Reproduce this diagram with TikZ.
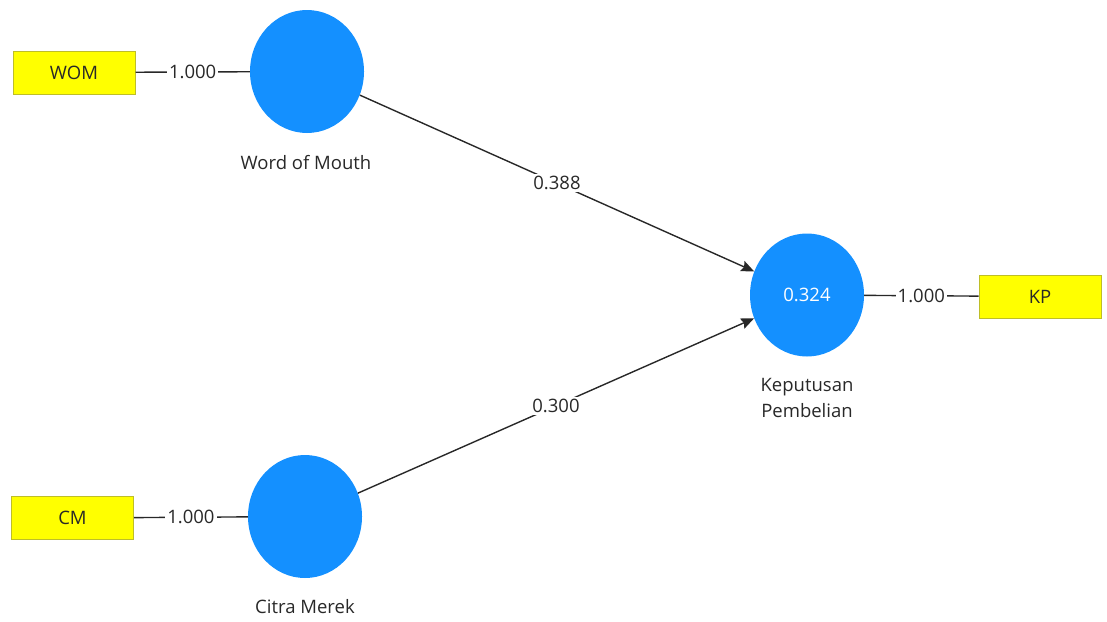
\documentclass[tikz,border=0pt]{standalone}
\usepackage{fontspec}
\setmainfont{Open Sans}
\usetikzlibrary{shapes.geometric,arrows.meta}
\definecolor{lvblue}{RGB}{20,144,255}
\definecolor{mvyellow}{RGB}{255,255,0}
\definecolor{mvborder}{RGB}{190,190,40}
\definecolor{txtcol}{RGB}{40,40,40}
\newcommand{\dfont}{\fontsize{18.5}{22}\selectfont}
\tikzset{
  latent/.style={ellipse,fill=lvblue,draw=none,minimum width=114pt,minimum height=123pt,inner sep=0pt,text=white,font=\dfont},
  manifest/.style={rectangle,fill=mvyellow,draw=mvborder,line width=1pt,minimum width=122pt,minimum height=43pt,inner sep=0pt,text=txtcol,font=\dfont},
  conn/.style={draw=txtcol,line width=1.4pt},
  pathline/.style={conn,-{Stealth[length=13pt,width=11pt,inset=2pt]}},
  lbl/.style={fill=white,inner sep=2pt,text=txtcol,font=\dfont},
  lvlabel/.style={text=txtcol,font=\dfont,align=center}
}
\begin{document}
\begin{tikzpicture}[x=1pt,y=-1pt]
\useasboundingbox (0,0) rectangle (1107,621);
\node[manifest] (wom) at (74,72.5) {WOM};
\node[manifest] (cm) at (72.5,518) {CM};
\node[manifest] (kp) at (1040,296.5) {KP};
\node[latent] (womc) at (307,71.5) {};
\node[latent] (cmc) at (305,516.5) {};
\node[latent] (kpc) at (807,295) {0.324};
\node[lvlabel] (womn) at (306,163) {Word of Mouth};
\node[lvlabel] (cmn) at (305,607) {Citra Merek};
\node[lvlabel,font=\fontsize{18.5}{26}\selectfont] (kpn) at (807,398) {Keputusan\\Pembelian};
\draw[conn] (wom) -- node[lbl] {1.000} (womc);
\draw[conn] (cm) -- node[lbl] {1.000} (cmc);
\draw[conn] (kpc) -- node[lbl] {1.000} (kp);
\draw[pathline] (womc) -- node[lbl] {0.388} (kpc);
\draw[pathline] (cmc) -- node[lbl] {0.300} (kpc);
\end{tikzpicture}
\end{document}
